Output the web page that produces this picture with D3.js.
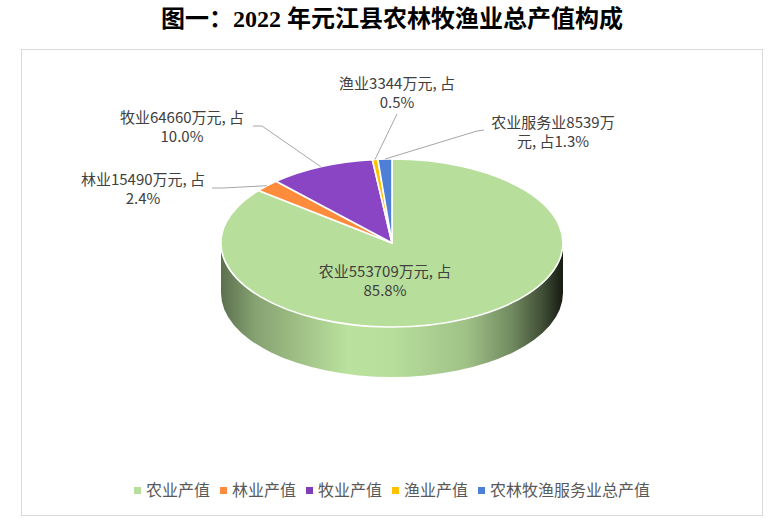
<!DOCTYPE html>
<html>
<head>
<meta charset="utf-8">
<script src="https://cdn.jsdelivr.net/npm/d3@7"></script>
<style>
  html, body { margin: 0; padding: 0; background: #fff; }
  svg { display: block; }
</style>
</head>
<body>
<svg id="chart" width="779" height="529"></svg>
<script>
// data
const categories = ["农业产值", "林业产值", "牧业产值", "渔业产值", "农林牧渔服务业总产值"];
const labelNames = ["农业", "林业", "牧业", "渔业", "农业服务业"];
const values = [553709, 15490, 64660, 3344, 8539];
const shares = [85.8, 2.4, 10.0, 0.5, 1.3];
const colors = ["#b7de9b", "#ff8b3d", "#7f3db8", "#ffc000", "#4e7fd6"];

// label layout (centre of text, first baseline, leader elbow); cut = where line 1 ends if not after "占"
const labelLayout = [
  { x: 385, y: 277, elbow: null },
  { x: 143, y: 185, elbow: [[212, 188], [223, 188]] },
  { x: 182, y: 123, elbow: [[253, 126], [262, 126]] },
  { x: 397, y: 89, elbow: [[397, 114]] },
  { x: 553, y: 128, cut: 10, elbow: [[484, 130], [477, 131]] }
];

const svg = d3.select("#chart");
const W = 779, H = 529;

svg.append("rect").attr("width", W).attr("height", H).attr("fill", "#fff");
svg.append("rect")
  .attr("x", 21.5).attr("y", 49.5)
  .attr("width", 741).attr("height", 466)
  .attr("fill", "#fff")
  .attr("stroke", "#d9d9d9")
  .attr("stroke-width", 1);

svg.append("text")
  .attr("x", 392)
  .attr("y", 27)
  .attr("text-anchor", "middle")
  .attr("font-family", "'Liberation Serif', 'Noto Sans CJK SC', serif")
  .attr("font-weight", "bold")
  .attr("font-size", 24)
  .attr("fill", "#000")
  .text("图一：2022 年元江县农林牧渔业总产值构成");

// ---- 3d pie ----
const cx = 392, cy = 243, rx = 171, ry = 84, depth = 50;
const arcs = d3.pie().sort(null).value((d) => d)(values);
const pt = (a, dy = 0) => [cx + rx * Math.sin(a), cy - ry * Math.cos(a) + dy];

const defs = svg.append("defs");

// side gradients, darkened from each slice colour
const sideStops = [[0, 0.5], [0.1, 0.27], [0.37, -0.02], [0.5, 0], [0.72, 0.13], [0.85, 0.38], [0.94, 0.65], [1, 0.88]];
colors.forEach((c, i) => {
  const g = defs.append("linearGradient")
    .attr("id", "side" + i)
    .attr("gradientUnits", "userSpaceOnUse")
    .attr("x1", cx - rx).attr("x2", cx + rx)
    .attr("y1", 0).attr("y2", 0);
  sideStops.forEach(([o, t]) => {
    const col = t < 0 ? d3.color(c).brighter(-t * 2) : d3.interpolateRgb(c, "#000")(t);
    g.append("stop").attr("offset", o).attr("stop-color", col);
  });
});

const purple = defs.append("linearGradient")
  .attr("id", "top2")
  .attr("gradientUnits", "userSpaceOnUse")
  .attr("x1", 0).attr("x2", 0)
  .attr("y1", cy - ry).attr("y2", cy);
purple.append("stop").attr("offset", 0).attr("stop-color", "#8a45c4");
purple.append("stop").attr("offset", 1).attr("stop-color", "#4a2168");

// front side walls (only the part between 3 and 9 o'clock shows)
arcs.forEach((d, i) => {
  const a0 = Math.max(d.startAngle, Math.PI / 2);
  const a1 = Math.min(d.endAngle, Math.PI * 3 / 2);
  if (a1 <= a0) return;
  const p0 = pt(a0), p1 = pt(a1), q1 = pt(a1, depth), q0 = pt(a0, depth);
  const path = `M${p0}A${rx},${ry} 0 0 1 ${p1}L${q1}A${rx},${ry} 0 0 0 ${q0}Z`;
  svg.append("path")
    .attr("d", path)
    .attr("fill", `url(#side${i})`);
});

// top faces, drawn on a unit circle squashed to the ellipse
const arc = d3.arc().innerRadius(0).outerRadius(1);
svg.append("g")
  .attr("transform", `translate(${cx},${cy}) scale(${rx},${ry})`)
  .selectAll("path")
  .data(arcs)
  .join("path")
  .attr("d", arc)
  .attr("fill", (d, i) => (i === 2 ? "url(#top2)" : colors[i]))
  .attr("stroke", "#fff")
  .attr("stroke-width", 1.6)
  .attr("vector-effect", "non-scaling-stroke")
  .attr("stroke-linejoin", "round");

// ---- data labels ----
const labelFont = "'Noto Sans CJK SC', 'Microsoft YaHei', sans-serif";
arcs.forEach((d, i) => {
  const lay = labelLayout[i];
  const full = `${labelNames[i]}${values[i]}万元, 占${shares[i].toFixed(1)}%`;
  const cut = lay.cut != null ? lay.cut : full.indexOf("占") + 1;
  const lines = [full.slice(0, cut), full.slice(cut).trim()];

  if (lay.elbow) {
    const mid = (d.startAngle + d.endAngle) / 2;
    const pts = lay.elbow.concat([pt(mid)]);
    svg.append("path")
      .attr("d", d3.line()(pts))
      .attr("fill", "none")
      .attr("stroke", "#a6a6a6")
      .attr("stroke-width", 1);
  }

  const t = svg.append("text")
    .attr("text-anchor", "middle")
    .attr("font-family", labelFont)
    .attr("font-size", 15)
    .attr("fill", "#404040");
  lines.forEach((s, k) => {
    t.append("tspan").attr("x", lay.x).attr("y", lay.y + k * 19).text(s);
  });
});

// ---- legend ----
const legend = svg.append("g").attr("font-family", labelFont).attr("font-size", 16).attr("fill", "#595959");
const items = legend.selectAll("g").data(categories).join("g");
items.append("rect")
  .attr("width", 7).attr("height", 7)
  .attr("y", 487)
  .attr("fill", (d, i) => colors[i]);
items.append("text")
  .attr("x", 12)
  .attr("y", 496)
  .text((d) => d);
const widths = [];
items.each(function () {
  widths.push(12 + d3.select(this).select("text").node().getComputedTextLength());
});
const gap = 10;
const total = d3.sum(widths) + gap * (widths.length - 1);
let off = 392 - total / 2;
items.attr("transform", (d, i) => {
  const x = off;
  off += widths[i] + gap;
  return `translate(${x},0)`;
});
</script>
</body>
</html>
